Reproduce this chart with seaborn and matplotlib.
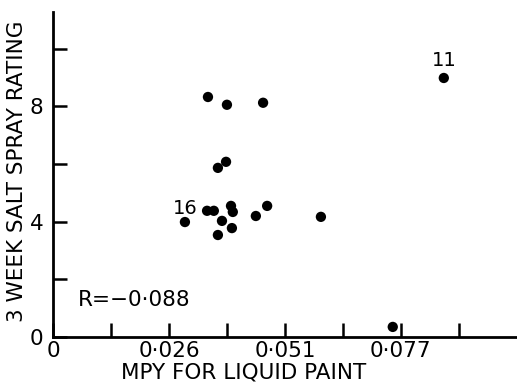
import numpy as np
import pandas as pd
import matplotlib
matplotlib.use("Agg")
import matplotlib.pyplot as plt
import seaborn as sns

# --------------------------------------------------
# Data
# --------------------------------------------------
mpy = [0.0343, 0.0385, 0.0465, 0.0865, 0.0365, 0.0383,
       0.0292, 0.0341, 0.0356, 0.0374, 0.0365, 0.0394,
       0.0398, 0.0396, 0.0449, 0.0474, 0.0593, 0.0752]
rating = [8.33, 8.06, 8.13, 8.99, 5.87, 6.08,
          3.99, 4.38, 4.38, 4.03, 3.54, 4.55,
          4.34, 3.78, 4.20, 4.55, 4.17, 0.35]
sample = [None, None, None, "11", None, None,
          "16", None, None, None, None, None,
          None, None, None, None, None, None]

x_ticks = [i * 0.077 / 6 for i in range(8)]
x_labels = ["0", "", "0·026", "", "0·051", "", "0·077", ""]
y_ticks = [0, 2, 4, 6, 8, 10]
y_labels = ["0", "", "4", "", "8", ""]

df = pd.DataFrame({"mpy": mpy, "rating": rating, "sample": sample})

# --------------------------------------------------
# Plot
# --------------------------------------------------
sns.set_style("ticks", {"axes.edgecolor": "black", "text.color": "black",
                        "axes.labelcolor": "black", "xtick.color": "black",
                        "ytick.color": "black"})
plt.rcParams['font.family'] = ['DejaVu Sans']

fig = plt.figure(figsize=(5.17, 3.82), dpi=100)
ax = fig.add_axes([0.1025, 0.1178, 0.8975, 0.8508])

sns.scatterplot(data=df, x="mpy", y="rating", ax=ax, color="black",
                s=55, edgecolor="none", legend=False)

for _, row in df.dropna(subset=["sample"]).iterrows():
    if row["sample"] == "11":
        ax.annotate(row["sample"], (row["mpy"], row["rating"]),
                    xytext=(0, 6), textcoords="offset points",
                    ha="center", va="bottom", fontsize=14)
    else:
        ax.annotate(row["sample"], (row["mpy"], row["rating"]),
                    xytext=(0, 3), textcoords="offset points",
                    ha="center", va="bottom", fontsize=14)

ax.text(0.0055, 1.3, "R=−0·088", fontsize=15.5, ha="left", va="center")

ax.set_xlim(0, 0.1027)
ax.set_ylim(0, 11.28)
ax.set_xticks(x_ticks)
ax.set_xticklabels(x_labels)
ax.set_yticks(y_ticks)
ax.set_yticklabels(y_labels)
ax.tick_params(direction="in", length=10, width=1.8, labelsize=15.5, pad=3)
ax.tick_params(axis="y", pad=7)

ax.set_xlabel("MPY FOR LIQUID PAINT", fontsize=15.5, labelpad=0)
ax.xaxis.set_label_coords(0.41, -0.078)
ax.set_ylabel("3 WEEK SALT SPRAY RATING", fontsize=15.5, labelpad=3)
ax.yaxis.set_label_coords(-0.056, 0.51)

sns.despine(ax=ax)
for side in ["left", "bottom"]:
    ax.spines[side].set_linewidth(2)

fig.savefig("out.png", dpi=100)
